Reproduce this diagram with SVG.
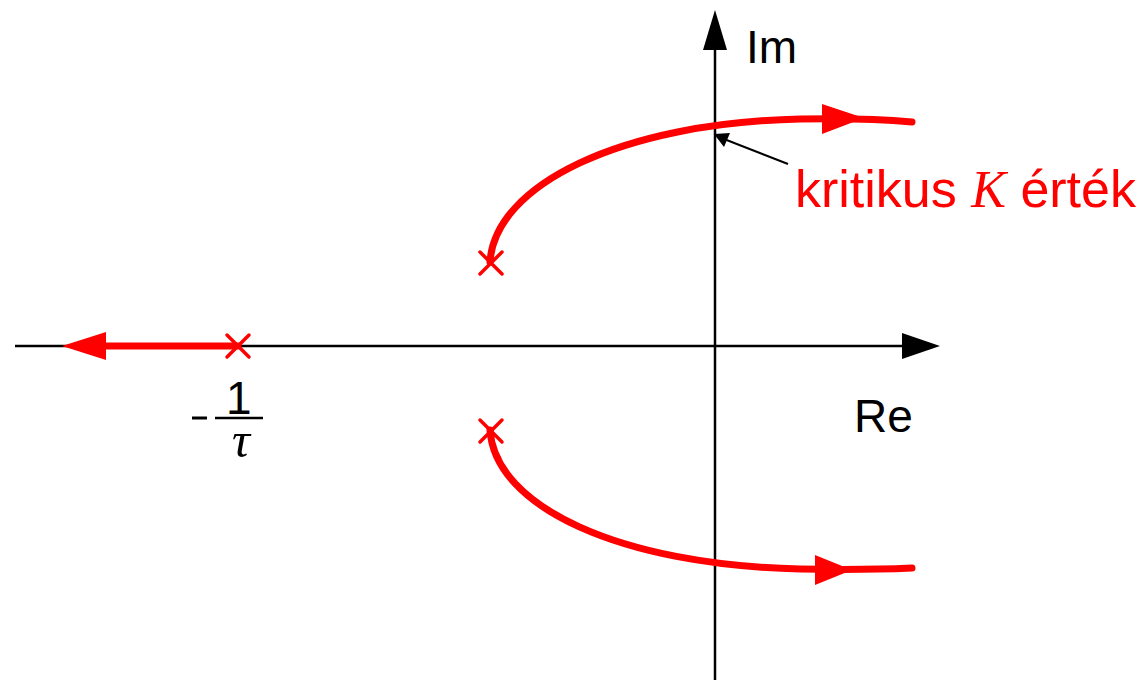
<svg xmlns="http://www.w3.org/2000/svg" width="1148" height="680" viewBox="0 0 1148 680">
<style>
.axis{stroke:#000;stroke-width:2.5;fill:none}
.loc{stroke:#ff0000;stroke-width:7;fill:none;stroke-linecap:round}
.pole{stroke:#ff0000;stroke-width:3.5;fill:none;stroke-linecap:round}
.lbl{font-family:"Liberation Sans",Arial,sans-serif;font-size:46px;fill:#000}
</style>
<rect width="1148" height="680" fill="#fff"/>
<g id="axes" class="connectors">
<line class="axis" x1="15" y1="346" x2="905" y2="346"/>
<polygon points="940,346 902,333 902,359" fill="#000"/>
<line class="axis" x1="715" y1="680" x2="715" y2="45"/>
<polygon points="715,10 703,50 727,50" fill="#000"/>
<line x1="788" y1="164" x2="724" y2="139" stroke="#000" stroke-width="2"/>
<polygon points="714,134 730,133 724,147" fill="#000"/>
</g>
<g id="locus-real" class="connectors">
<line class="loc" x1="238" y1="346" x2="100" y2="346"/>
<polygon points="62,346 106,332 106,360" fill="#ff0000"/>
</g>
<g id="locus-upper" class="connectors">
<path class="loc" d="M490,262 C495,185 620,123 800,119 C850,118 890,120 912,122"/>
<polygon points="864,118 822,104 822,134" fill="#ff0000"/>
</g>
<g id="locus-lower" class="connectors">
<path class="loc" d="M490,430 C495,507 620,565 800,569 C850,570 890,569 912,568"/>
<polygon points="852,570 815,555 815,585" fill="#ff0000"/>
</g>
<g id="pole-real"><path class="pole" d="M227,335 L249,357 M249,335 L227,357"/></g>
<g id="pole-upper"><path class="pole" d="M480,252 L502,274 M502,252 L480,274"/></g>
<g id="pole-lower"><path class="pole" d="M480,420 L502,442 M502,420 L480,442"/></g>
<g id="label-im"><text class="lbl" x="746" y="63">Im</text></g>
<g id="label-re"><text class="lbl" x="854" y="432">Re</text></g>
<g id="label-tau">
<line x1="192" y1="418" x2="207" y2="418" stroke="#000" stroke-width="3"/>
<line x1="215" y1="418" x2="263" y2="418" stroke="#000" stroke-width="2.5"/>
<text class="lbl" x="226" y="414" font-size="45">1</text>
<text x="232" y="457" font-family="'Liberation Serif','Times New Roman',serif" font-style="italic" font-size="50" fill="#000">τ</text>
</g>
<g id="label-kritikus">
<text x="795" y="207" font-family="'Liberation Sans',Arial,sans-serif" font-size="52" fill="#ff0000">kritikus <tspan font-family="'Liberation Serif','Times New Roman',serif" font-style="italic">K</tspan> érték</text>
</g>
</svg>
